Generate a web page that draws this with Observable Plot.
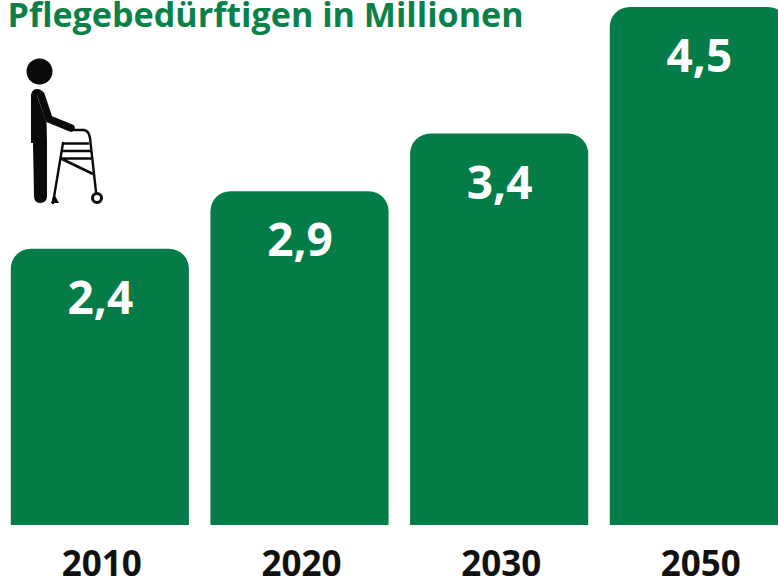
<!DOCTYPE html>
<html><head><meta charset="utf-8">
<style>html,body{margin:0;padding:0;background:#fff;overflow:hidden}svg{display:block}</style>
<script src="https://cdn.jsdelivr.net/npm/d3@7"></script>
<script src="https://cdn.jsdelivr.net/npm/@observablehq/plot@0.6"></script>
</head><body><div id="chart"></div>
<script>
const years = ["2010","2020","2030","2050"];
const values = [2.4,2.9,3.4,4.5];
const labels = ["2,4","2,9","3,4","4,5"];
const titleText = "Pflegebedürftigen in Millionen";
const green = "#037c48";
const table = years.map((year,i)=>({year,value:values[i],label:labels[i]}));
const font = "'Open Sans', 'Noto Sans', sans-serif";

function walkerIcon(){
  const g = d3.create("svg:g").attr("fill","none").attr("stroke","#0a0a0a").attr("stroke-linecap","round").attr("stroke-linejoin","round");
  g.append("circle").attr("cx",39.5).attr("cy",71.5).attr("r",13).attr("fill","#0a0a0a").attr("stroke","none");
  g.append("path").attr("fill","#0a0a0a").attr("stroke","none")
    .attr("d","M31 97Q31 89 37 89Q43 89 46 97L47 143L47 196Q47 203 40 203Q34 203 34 196L33 143L31 143Z");
  g.append("path").attr("stroke-width",9).attr("stroke","#fff").attr("d","M42 96L50 119L71 128");
  g.append("path").attr("stroke-width",7.5).attr("d","M41 95L49 119L71 128");
  g.append("path").attr("stroke-width",2.4).attr("d","M74 130L84 130Q89 131 90 138L96 192");
  g.append("path").attr("stroke-width",2.4).attr("d","M63 143L53 203");
  g.append("path").attr("stroke-width",2.6).attr("stroke-linecap","butt").attr("d","M63 143.5L89 143.5M62 151L91 151M60 158.5L91 158.5M62 159L93 174");
  g.append("path").attr("fill","#0a0a0a").attr("stroke","none").attr("d","M51 203L54 194L59 203Z");
  g.append("circle").attr("cx",97).attr("cy",198).attr("r",4.5).attr("stroke-width",3).attr("fill","#fff");
  return g.node();
}

const chart = Plot.plot({
  width:778, height:579,
  marginTop:0, marginBottom:0, marginLeft:0, marginRight:0,
  style:{fontFamily:font, background:"#fff", overflow:"hidden"},
  x:{domain:years, range:[0,798.67], paddingInner:0.108, paddingOuter:0.054, align:0.5, round:false, axis:null},
  y:{domain:[0,4.5], range:[525,7], axis:null},
  marks:[
    Plot.barY(table,{x:"year",y:"value",fill:green,rx1y1:20,rx2y1:20}),
    Plot.text(table,{x:"year",y:"value",text:"label",fill:"#fff",fontSize:46,fontWeight:700,dy:50,lineAnchor:"middle"}),
    Plot.text(table,{x:"year",text:"year",frameAnchor:"bottom",dx:1.5,dy:-4,lineAnchor:"bottom",fill:"#111",fontSize:35,fontWeight:700}),
    Plot.text([titleText],{text:d=>d,frameAnchor:"top-left",dx:7,dy:2,lineAnchor:"top",textAnchor:"start",fill:"#0a8149",fontSize:34.1,fontWeight:700}),
    walkerIcon
  ]
});
document.getElementById("chart").append(chart);
</script></body></html>
